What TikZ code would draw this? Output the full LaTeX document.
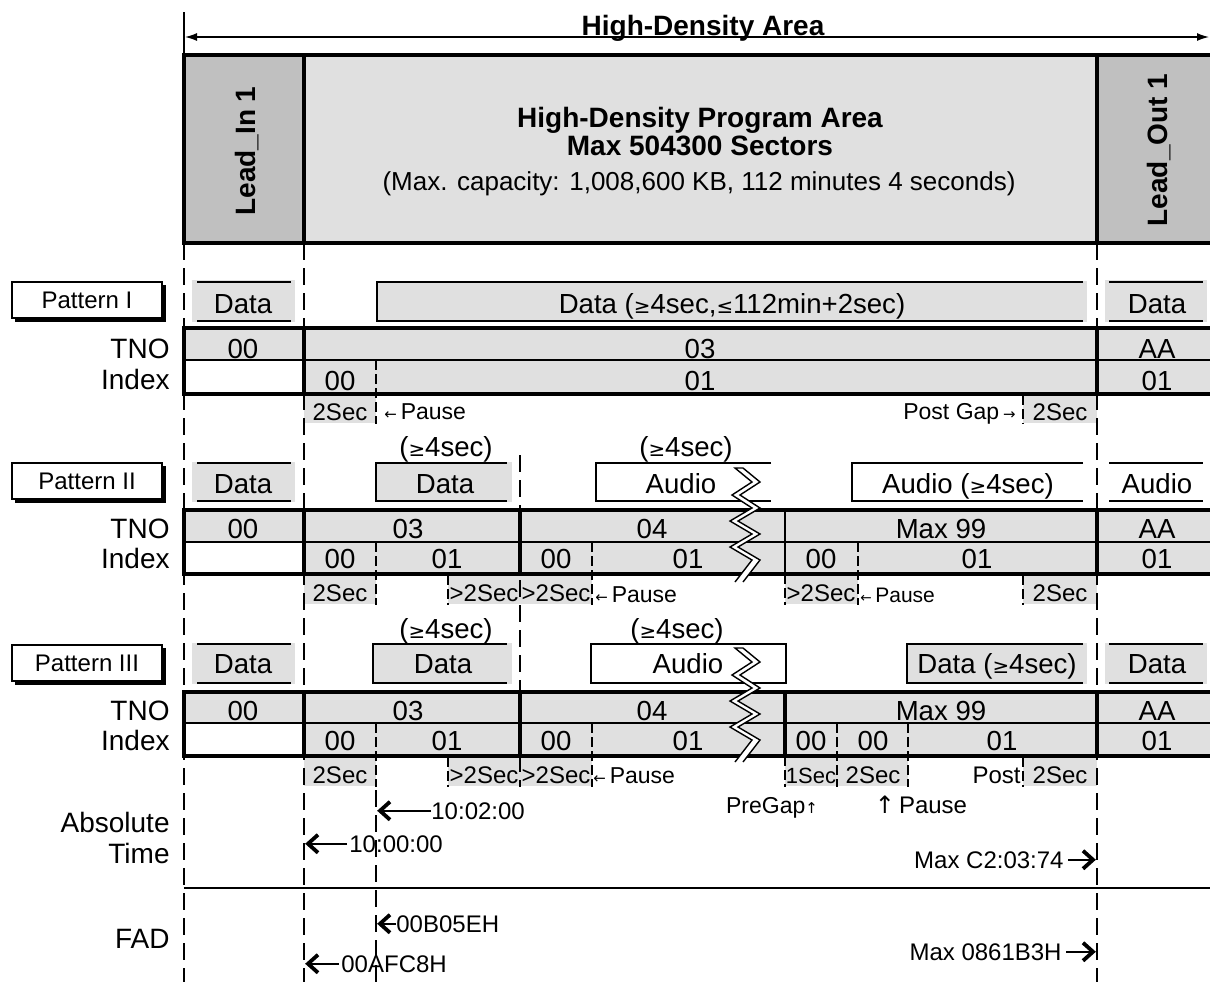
\documentclass[tikz,border=0pt]{standalone}
\usepackage{fontspec}
\setmainfont{Liberation Sans}
\newfontfamily\symf[Scale=0.72]{DejaVu Sans}
\newfontfamily\arrf[Scale=0.65]{DejaVu Sans}
\newfontfamily\arrbig{DejaVu Sans}
\usetikzlibrary{arrows.meta}
\pgfdeclarelayer{bg}
\pgfsetlayers{bg,main}
\definecolor{lg}{RGB}{224,224,224}
\definecolor{dg}{RGB}{192,192,192}
\newcommand\gsym[1]{{\symf #1}}
\newcommand\asym[1]{{\arrf #1}}
\newcommand\zigband[1]{%
\begin{scope}[shift={(0,#1)}]
\fill[white] (735,468) -- (752,482) -- (732,495) -- (752,508) -- (730,521) -- (752,534) -- (730,547) -- (752,560) -- (735,582)
 -- (743,582) -- (760,560) -- (738,547) -- (760,534) -- (738,521) -- (760,508) -- (740,495) -- (760,482) -- (743,468) -- cycle;
\draw[zigline] (743,468) -- (735,468) -- (752,482) -- (732,495) -- (752,508) -- (730,521) -- (752,534) -- (730,547) -- (752,560) -- (735,582);
\draw[zigline] (743,468) -- (760,482) -- (740,495) -- (760,508) -- (738,521) -- (760,534) -- (738,547) -- (760,560) -- (743,582);
\end{scope}}
\begin{document}
\begin{tikzpicture}[x=0.5pt,y=-0.5pt,
  cell/.style={font=\fontsize{13.8}{16}\selectfont, inner sep=0pt, anchor=base},
  lab/.style={font=\fontsize{14}{16}\selectfont, inner sep=0pt, anchor=base east},
  boldtxt/.style={font=\fontsize{14}{17}\selectfont\bfseries, inner sep=0pt, anchor=base},
  captxt/.style={font=\fontsize{13}{16}\selectfont, inner sep=0pt, anchor=base},
  smltxt/.style={font=\fontsize{12}{14}\selectfont, inner sep=0pt},
  tinytxt/.style={font=\fontsize{11.5}{13}\selectfont, inner sep=0pt},
  patbox/.style={draw, line width=0.7pt, fill=white, minimum width=75pt, minimum height=18pt, inner sep=0pt, font=\fontsize{12}{14}\selectfont},
  mainvline/.style={line width=0.9pt, dash pattern=on 8.5pt off 4pt},
  subvline/.style={line width=0.6pt, dash pattern=on 5pt off 2pt},
  rowline/.style={line width=0.8pt},
  boxline/.style={line width=1.8pt},
  tblthick/.style={line width=1.7pt},
  tblthin/.style={line width=0.8pt},
  zigline/.style={line width=0.7pt, line join=miter},
  stem/.style={line width=1.1pt},
  chevtip/.style={line width=1.9pt, line join=miter},
]
\useasboundingbox (0,0) rectangle (1210,982);
\begin{pgfonlayer}{bg}
\fill[white] (0,0) rectangle (1210,982);
% top box
\fill[dg] (184,55) rectangle (304,243);
\fill[lg] (304,55) rectangle (1097,243);
\fill[dg] (1097,55) rectangle (1212,243);
% Pattern I
\fill[lg] (192,280) rectangle (295,322);
\fill[lg] (377,281) rectangle (1087,322);
\fill[lg] (1105,280) rectangle (1207,322);
\fill[lg] (184,328) rectangle (1212,360);
\fill[lg] (304,360) rectangle (1212,394);
\fill[lg] (304,395) rectangle (376,423);
\fill[lg] (1023,395) rectangle (1097,423);
% Pattern II
\fill[lg] (192,462) rectangle (295,502);
\fill[lg] (376,462) rectangle (512,502);
\fill[lg] (184,510) rectangle (1212,542);
\fill[lg] (304,542) rectangle (1212,574);
\fill[lg] (304,575) rectangle (376,604);
\fill[lg] (448,575) rectangle (592,604);
\fill[lg] (785,575) rectangle (858,604);
\fill[lg] (1023,575) rectangle (1097,604);
% Pattern III
\fill[lg] (192,643) rectangle (295,684);
\fill[lg] (373,643) rectangle (512,684);
\fill[lg] (907,643) rectangle (1087,684);
\fill[lg] (1105,643) rectangle (1207,684);
\fill[lg] (184,692) rectangle (1212,723);
\fill[lg] (304,723) rectangle (1212,756);
\fill[lg] (304,757) rectangle (376,786);
\fill[lg] (448,757) rectangle (592,786);
\fill[lg] (785,757) rectangle (908,786);
\fill[lg] (1023,757) rectangle (1097,786);
\end{pgfonlayer}

% ---------- dashed guide lines ----------
\draw[mainvline] (184,243) -- (184,982);
\draw[mainvline] (304,243) -- (304,982);
\draw[mainvline] (1097,243) -- (1097,982);
\draw[mainvline] (520,455) -- (520,787);
\draw[mainvline] (376,790) -- (376,982);
\draw[subvline] (376,360) -- (376,424);
\draw[subvline] (1023,395) -- (1023,424);
\draw[subvline] (376,542) -- (376,605);
\draw[subvline] (448,575) -- (448,605);
\draw[subvline] (592,542) -- (592,605);
\draw[subvline] (785,574) -- (785,605);
\draw[subvline] (858,542) -- (858,605);
\draw[subvline] (1023,575) -- (1023,605);
\draw[subvline] (376,723) -- (376,787);
\draw[subvline] (448,757) -- (448,787);
\draw[subvline] (592,723) -- (592,787);
\draw[subvline] (785,756) -- (785,787);
\draw[subvline] (837,723) -- (837,787);
\draw[subvline] (908,723) -- (908,787);
\draw[subvline] (1023,757) -- (1023,787);

% ---------- top ----------
\draw[line width=0.8pt] (184,12) -- (184,55);
\coordinate (hl) at (185,37);
\coordinate (hr) at (1209,37);
\draw[line width=0.7pt, {Latex[length=6pt,width=4pt]}-{Latex[length=6pt,width=4pt]}] (hl) -- (hr);
\node[boldtxt] (hda) at (703,35) {High-Density Area};

\draw[boxline] (1212,55) -- (184,55) -- (184,243) -- (1212,243);
\draw[boxline] (304,55) -- (304,243) (1097,55) -- (1097,243);
\node[boldtxt] (hdpa) at (700,127) {High-Density Program Area};
\node[boldtxt] (hdmax) at (700,155) {Max 504300 Sectors};
\node[captxt] (hdcap) at (699,190) {(Max. capacity: 1,008,600 KB, 112 minutes 4 seconds)};
\node[boldtxt, rotate=90] (leadin) at (255,151) {Lead\_In 1};
\node[boldtxt, rotate=90] (leadout) at (1167,150) {Lead\_Out 1};

% ---------- Pattern I ----------
\fill (15,285) rectangle (166,322);
\node[patbox] (pat1) at (87,300) {Pattern I};
\draw[rowline] (197,282) -- (291,282) (197,321) -- (291,321);
\draw[rowline] (1083,282) -- (377,282) -- (377,321) -- (1083,321);
\draw[rowline] (1109,282) -- (1203,282) (1109,321) -- (1203,321);
\node[cell] (p1li) at (243,313) {Data};
\node[cell] (p1d) at (732,313) {Data (\gsym{≥}4sec,\gsym{≤}112min+2sec)};
\node[cell] (p1lo) at (1157,313) {Data};

\draw[tblthin] (184,360) -- (1212,360);
\draw[tblthick] (1212,328) -- (184,328) -- (184,394) -- (1212,394);
\draw[tblthick] (304,328) -- (304,394) (1097,328) -- (1097,394);
\node[lab] (p1tno) at (170,358) {TNO};
\node[lab] (p1idx) at (170,389) {Index};
\node[cell] (p1t00) at (243,358) {00};
\node[cell] (p1t03) at (700,358) {03};
\node[cell] (p1tAA) at (1157,358) {AA};
\node[cell] (p1i00) at (340,390) {00};
\node[cell] (p1i01) at (700,390) {01};
\node[cell] (p1i01b) at (1157,390) {01};
\node[smltxt, anchor=base] (p1s1) at (340,420) {2Sec};
\node[tinytxt, anchor=base west] (p1pause) at (384,419) {\asym{←}\,Pause};
\node[tinytxt, anchor=base east] (p1post) at (1016,419) {Post Gap\,\asym{→}};
\node[smltxt, anchor=base] (p1s2) at (1060,420) {2Sec};

% ---------- Pattern II ----------
\fill (15,466) rectangle (166,503);
\node[patbox] (pat2) at (87,481) {Pattern II};
\node[cell] (p2ge1) at (446,456) {(\gsym{≥}4sec)};
\node[cell] (p2ge2) at (686,456) {(\gsym{≥}4sec)};
\draw[rowline] (197,463) -- (291,463) (197,501) -- (291,501);
\draw[rowline] (507,463) -- (376,463) -- (376,501) -- (507,501);
\draw[rowline] (771,463) -- (596,463) -- (596,501) -- (771,501);
\draw[rowline] (1083,463) -- (852,463) -- (852,501) -- (1083,501);
\draw[rowline] (1109,463) -- (1203,463) (1109,501) -- (1203,501);

\draw[tblthin] (184,542) -- (1212,542);
\draw[tblthin] (785,510) -- (785,574);
\draw[tblthick] (1212,510) -- (184,510) -- (184,574) -- (1212,574);
\draw[tblthick] (304,510) -- (304,574) (520,510) -- (520,574) (1097,510) -- (1097,574);
\zigband{0}
\node[cell] (p2li) at (243,493) {Data};
\node[cell] (p2d) at (445,493) {Data};
\node[cell] (p2a) at (681,493) {Audio};
\node[cell] (p2a2) at (968,493) {Audio (\gsym{≥}4sec)};
\node[cell] (p2lo) at (1157,493) {Audio};
\node[lab] (p2tno) at (170,538) {TNO};
\node[lab] (p2idx) at (170,568) {Index};
\node[cell] (p2t00) at (243,538) {00};
\node[cell] (p2t03) at (408,538) {03};
\node[cell] (p2t04) at (652,538) {04};
\node[cell] (p2t99) at (941,538) {Max 99};
\node[cell] (p2tAA) at (1157,538) {AA};
\node[cell] (p2i1) at (340,568) {00};
\node[cell] (p2i2) at (447,568) {01};
\node[cell] (p2i3) at (556,568) {00};
\node[cell] (p2i4) at (688,568) {01};
\node[cell] (p2i5) at (821,568) {00};
\node[cell] (p2i6) at (977,568) {01};
\node[cell] (p2i7) at (1157,568) {01};
\node[smltxt, anchor=base] (p2s1) at (340,601) {2Sec};
\node[smltxt, anchor=base] (p2s2) at (484,601) {>2Sec};
\node[smltxt, anchor=base] (p2s3) at (556,601) {>2Sec};
\node[tinytxt, anchor=base west] (p2pause) at (595,602) {\asym{←}\,Pause};
\node[smltxt, anchor=base] (p2s4) at (821,601) {>2Sec};
\node[font=\fontsize{10.5}{12}\selectfont, inner sep=0pt, anchor=base west] (p2pause2) at (860,602) {\asym{←}\,Pause};
\node[smltxt, anchor=base] (p2s5) at (1060,601) {2Sec};

% ---------- Pattern III ----------
\fill (15,648) rectangle (166,685);
\node[patbox] (pat3) at (87,663) {Pattern III};
\node[cell] (p3ge1) at (446,638) {(\gsym{≥}4sec)};
\node[cell] (p3ge2) at (677,638) {(\gsym{≥}4sec)};
\draw[rowline] (197,644) -- (291,644) (197,683) -- (291,683);
\draw[rowline] (507,644) -- (373,644) -- (373,683) -- (507,683);
\draw[rowline] (591,644) rectangle (786,683);
\draw[rowline] (1083,644) -- (907,644) -- (907,683) -- (1083,683);
\draw[rowline] (1109,644) -- (1203,644) (1109,683) -- (1203,683);

\draw[tblthin] (184,723) -- (1212,723);
\draw[tblthick] (1212,692) -- (184,692) -- (184,756) -- (1212,756);
\draw[tblthick] (304,692) -- (304,756) (520,692) -- (520,756) (785,692) -- (785,756) (1097,692) -- (1097,756);
\zigband{180}
\node[cell] (p3li) at (243,673) {Data};
\node[cell] (p3d) at (443,673) {Data};
\node[cell] (p3a) at (688,673) {Audio};
\node[cell] (p3d2) at (997,673) {Data (\gsym{≥}4sec)};
\node[cell] (p3lo) at (1157,673) {Data};
\node[lab] (p3tno) at (170,720) {TNO};
\node[lab] (p3idx) at (170,750) {Index};
\node[cell] (p3t00) at (243,720) {00};
\node[cell] (p3t03) at (408,720) {03};
\node[cell] (p3t04) at (652,720) {04};
\node[cell] (p3t99) at (941,720) {Max 99};
\node[cell] (p3tAA) at (1157,720) {AA};
\node[cell] (p3i1) at (340,750) {00};
\node[cell] (p3i2) at (447,750) {01};
\node[cell] (p3i3) at (556,750) {00};
\node[cell] (p3i4) at (688,750) {01};
\node[cell] (p3i5) at (811,750) {00};
\node[cell] (p3i6) at (873,750) {00};
\node[cell] (p3i7) at (1002,750) {01};
\node[cell] (p3i8) at (1157,750) {01};
\node[smltxt, anchor=base] (p3s1) at (340,783) {2Sec};
\node[smltxt, anchor=base] (p3s2) at (484,783) {>2Sec};
\node[smltxt, anchor=base] (p3s3) at (556,783) {>2Sec};
\node[tinytxt, anchor=base west] (p3pause) at (593,783) {\asym{←}\,Pause};
\node[font=\fontsize{11}{13}\selectfont, inner sep=0pt, anchor=base] (p3s4) at (811,783) {1Sec};
\node[smltxt, anchor=base] (p3s5) at (873,783) {2Sec};
\node[smltxt, anchor=base east] (p3post) at (1021,783) {Post};
\node[smltxt, anchor=base] (p3s6) at (1060,783) {2Sec};

% ---------- bottom ----------
\node[tinytxt, anchor=base] (pregap) at (772,813) {PreGap\asym{↑}};
\node[smltxt, anchor=base] (pause3) at (921,813) {{\arrbig ↑}\,Pause};
\node[lab] (abs1) at (170,832) {Absolute};
\node[lab] (abs2) at (170,863) {Time};
\coordinate (sepL) at (184,888);
\coordinate (sepR) at (1212,888);
\draw[line width=1.2pt] (sepL) -- (sepR);
\node[lab] (fad) at (170,948) {FAD};

\coordinate (x376) at (380,0);
\coordinate (x304) at (308,0);
\coordinate (x1097) at (1093,0);
% left-pointing chevron arrows
\node[smltxt, anchor=base west] (at1) at (431,819) {10:02:00};
\draw[stem] (at1.west) -- (at1.west -| x376);
\draw[chevtip] (at1.west -| x376) ++(10,-9) -- ++(-10,9) -- ++(10,9);
\node[smltxt, anchor=base west] (at2) at (349,852) {10:00:00};
\draw[stem] ([xshift=-1pt]at2.west) -- (at2.west -| x304);
\draw[chevtip] (at2.west -| x304) ++(10,-9) -- ++(-10,9) -- ++(10,9);
\node[smltxt, anchor=base west] (fa1) at (396,932) {00B05EH};
\draw[stem] (fa1.west) -- (fa1.west -| x376);
\draw[chevtip] (fa1.west -| x376) ++(10,-9) -- ++(-10,9) -- ++(10,9);
\node[smltxt, anchor=base west] (fa2) at (341,972) {00AFC8H};
\draw[stem] ([xshift=-1pt]fa2.west) -- (fa2.west -| x304);
\draw[chevtip] (fa2.west -| x304) ++(10,-9) -- ++(-10,9) -- ++(10,9);
% right-pointing chevron arrows
\node[smltxt, anchor=base east] (at3) at (1064,868) {Max C2:03:74};
\draw[stem] ([xshift=2pt]at3.east) -- (at3.east -| x1097);
\draw[chevtip] (at3.east -| x1097) ++(-10,-9) -- ++(10,9) -- ++(-10,9);
\node[smltxt, anchor=base east] (fa3) at (1062,960) {Max 0861B3H};
\draw[stem] ([xshift=2pt]fa3.east) -- (fa3.east -| x1097);
\draw[chevtip] (fa3.east -| x1097) ++(-10,-9) -- ++(10,9) -- ++(-10,9);
\end{tikzpicture}
\end{document}
